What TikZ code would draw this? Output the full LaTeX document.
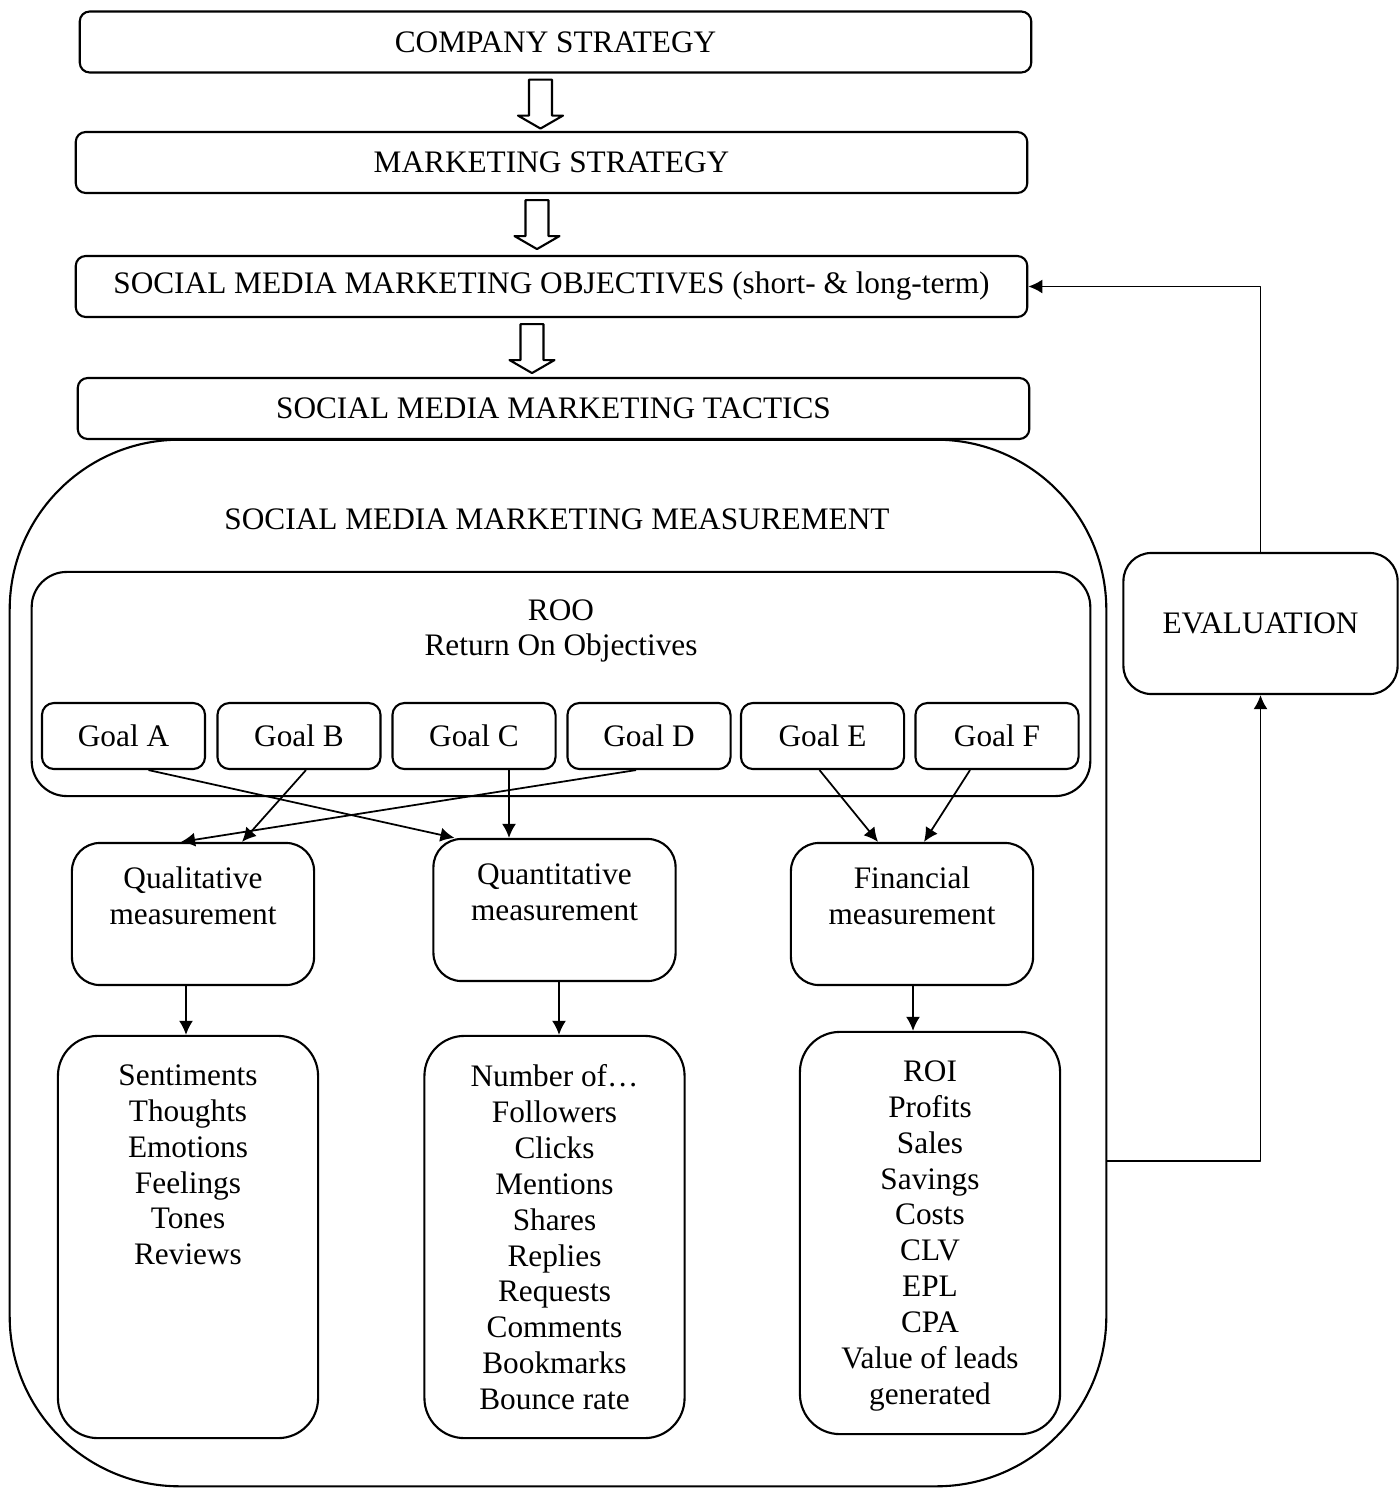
\documentclass[tikz,border=0pt]{standalone}
\usepackage{fontspec}
\setmainfont{Liberation Serif}
\usepackage{tikz}
\usetikzlibrary{arrows.meta}
\usetikzlibrary{calc}
\tikzset{bx/.style={draw,line width=0.6pt,rounded corners=0.1cm,minimum width=9.51cm,minimum height=0.61cm,inner sep=0pt}}
\tikzset{goal/.style={draw,line width=0.6pt,rounded corners=0.12cm,minimum width=1.63cm,minimum height=0.66cm,inner sep=0pt}}
\tikzset{mbox/.style={draw,line width=0.6pt,rounded corners=0.28cm,minimum width=2.42cm,minimum height=1.42cm}}
\tikzset{lbox/.style={draw,line width=0.6pt,rounded corners=0.4cm,minimum width=2.6cm,minimum height=4.02cm}}
\tikzset{txt/.style={align=center,inner sep=0pt}}
\tikzset{arr/.style={line width=0.5pt,-{Latex[length=4pt,width=4pt]}}}
\tikzset{hollow/.style={draw,line width=0.6pt,fill=white}}
\newcommand{\downblock}[2]{%
  \begin{scope}[shift={($(#1.south)+(#2,6)$)}]
    \draw[hollow](-11.5,0)--(11.5,0)--(11.5,36)--(22.5,36)--(0,49)--(-22.5,36)--(-11.5,36)--cycle;
  \end{scope}}

\begin{document}
\begin{tikzpicture}[x=0.01cm,y=-0.01cm,line join=round,font=\fontsize{8.9}{10.2}\selectfont]
  \useasboundingbox (0,0) rectangle (1399,1488);
  \node[bx] (comp) at (555.5,42) {COMPANY STRATEGY};
  \node[bx] (mkt) at (551.5,162.5) {MARKETING STRATEGY};
  \node[bx] (obj) at (551.5,286.5) {SOCIAL MEDIA MARKETING OBJECTIVES (short- \& long-term)};
  \node[bx] (tac) at (553.5,408.5) {SOCIAL MEDIA MARKETING TACTICS};
  \downblock{comp}{-15}
  \downblock{mkt}{-14.5}
  \downblock{obj}{-19.5}

  \node[draw,line width=0.6pt,rounded corners=1.7cm,minimum width=10.96cm,minimum height=10.46cm] (meas) at (558,963) {};
  \node[txt] (meastitle) at (557,519) {SOCIAL MEDIA MARKETING MEASUREMENT};

  \node[draw,line width=0.6pt,rounded corners=0.35cm,minimum width=10.58cm,minimum height=2.24cm] (roo) at (561,684) {};
  \node[txt] (rootxt) at (561,631) {ROO\\Return On Objectives};
  \node[goal] (gA) at (123.5,736) {Goal A};
  \node[goal] (gB) at (299,736) {Goal B};
  \node[goal] (gC) at (474,736) {Goal C};
  \node[goal] (gD) at (649,736) {Goal D};
  \node[goal] (gE) at (822.5,736) {Goal E};
  \node[goal] (gF) at (997,736) {Goal F};

  \node[mbox] (qual) at (193,914) {};
  \node[txt] (qualtxt) at (193,896) {Qualitative\\measurement};
  \node[mbox] (quant) at (554.5,910) {};
  \node[txt] (quanttxt) at (554.5,892) {Quantitative\\measurement};
  \node[mbox] (fin) at (912,914) {};
  \node[txt] (fintxt) at (912,895.5) {Financial\\measurement};

  \node[lbox] (quallist) at (188,1237) {};
  \node[txt,anchor=north] (qualitems) at (188,1064) {Sentiments\\Thoughts\\Emotions\\Feelings\\Tones\\Reviews};
  \node[lbox] (quantlist) at (554.5,1237) {};
  \node[txt,anchor=north] (quantitems) at (554.5,1064) {Number of…\\Followers\\Clicks\\Mentions\\Shares\\Replies\\Requests\\Comments\\Bookmarks\\Bounce rate};
  \node[lbox] (finlist) at (930,1233) {};
  \node[txt,anchor=north] (finitems) at (930,1060) {ROI\\Profits\\Sales\\Savings\\Costs\\CLV\\EPL\\CPA\\Value of leads\\generated};

  \node[draw,line width=0.6pt,rounded corners=0.28cm,minimum width=2.74cm,minimum height=1.41cm] (eval) at (1260.5,623.5) {EVALUATION};

  \draw[arr] ($(gA.south)+(25,0)$) -- ($(quant.north)+(-100,0)$);
  \draw[arr] ($(gB.south)+(7,0)$) -- ($(qual.north)+(49,0)$);
  \draw[arr] ($(gC.south)+(35,0)$) -- ($(quant.north)+(-45.5,0)$);
  \draw[arr] ($(gD.south)+(-13,0)$) -- ($(qual.north)+(-12,0)$);
  \draw[arr] ($(gE.south)+(-3,0)$) -- ($(fin.north)+(-34,0)$);
  \draw[arr] ($(gF.south)+(-27,0)$) -- ($(fin.north)+(12,0)$);
  \draw[arr] ($(qual.south)+(-7,0)$) -- ($(quallist.north)+(-2,0)$);
  \draw[arr] ($(quant.south)+(4.5,0)$) -- ($(quantlist.north)+(4.5,0)$);
  \draw[arr] ($(fin.south)+(1,0)$) -- ($(finlist.north)+(-17,0)$);
  \draw[arr] ($(meas.east)+(0,198)$) -| (eval.south);
  \draw[arr] (eval.north) |- (obj.east);
\end{tikzpicture}
\end{document}
